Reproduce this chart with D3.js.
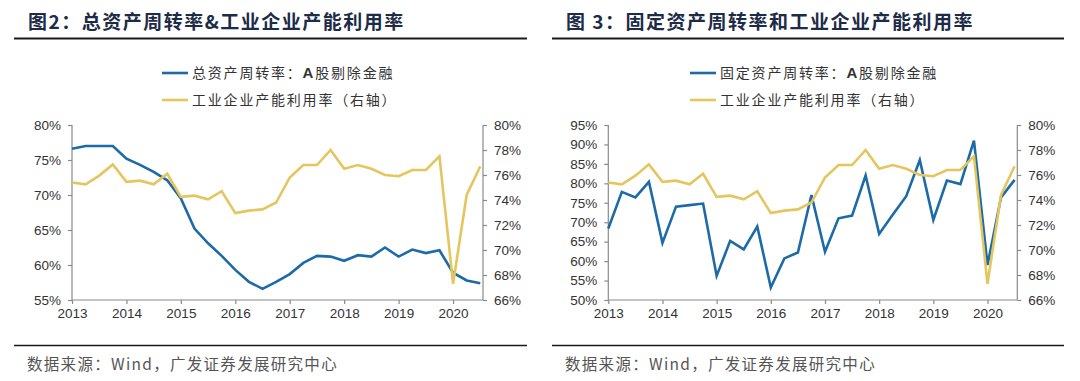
<!DOCTYPE html>
<html>
<head>
<meta charset="utf-8">
<script src="https://cdn.jsdelivr.net/npm/d3@7/dist/d3.min.js"></script>
<style>
  html, body { margin: 0; padding: 0; background: #fff; }
  svg { display: block; }
</style>
</head>
<body>
<svg id="chart" width="1080" height="381"></svg>
<script>
// ---------------- DATA ----------------
const quarters = ["2013Q1","2013Q2","2013Q3","2013Q4","2014Q1","2014Q2","2014Q3","2014Q4",
  "2015Q1","2015Q2","2015Q3","2015Q4","2016Q1","2016Q2","2016Q3","2016Q4",
  "2017Q1","2017Q2","2017Q3","2017Q4","2018Q1","2018Q2","2018Q3","2018Q4",
  "2019Q1","2019Q2","2019Q3","2019Q4","2020Q1","2020Q2","2020Q3"];
const yearTicks = ["2013","2014","2015","2016","2017","2018","2019","2020"];

// 总资产周转率：A股剔除金融 (%)
const totalAssetTurnover = [76.6, 77.0, 77.0, 77.0, 75.2, 74.3, 73.3, 72.1,
  69.5, 65.2, 63.1, 61.3, 59.3, 57.6, 56.6, 57.6,
  58.7, 60.3, 61.3, 61.2, 60.6, 61.4, 61.2, 62.5,
  61.2, 62.2, 61.7, 62.1, 58.9, 57.8, 57.4];

// 固定资产周转率：A股剔除金融 (%)
const fixedAssetTurnover = [68.4, 77.8, 76.4, 80.4, 64.7, 74.0, 74.4, 74.8,
  56.2, 65.2, 63.0, 68.9, 53.2, 60.7, 62.2, 77.0,
  62.4, 71.0, 71.7, 82.0, 67.0, 71.9, 76.7, 86.0,
  70.6, 80.7, 79.8, 91.0, 59.0, 76.4, 80.9];

// 工业企业产能利用率 (%, 右轴)
const capacityUtilization = [75.4, 75.25, 75.95, 76.85, 75.45, 75.55, 75.25, 76.1,
  74.25, 74.35, 74.05, 74.7, 72.95, 73.15, 73.25, 73.8,
  75.8, 76.8, 76.8, 78.0, 76.5, 76.8, 76.5, 76.0,
  75.9, 76.4, 76.4, 77.5, 67.3, 74.4, 76.7];

const leftTicksA = [55, 60, 65, 70, 75, 80];
const leftTicksB = [50, 55, 60, 65, 70, 75, 80, 85, 90, 95];
const rightTicks = [66, 68, 70, 72, 74, 76, 78, 80];

// ---------------- STYLE ----------------
const BLUE = "#1d6aa8";
const YELLOW = "#e5c65e";
const AXIS = "#8a8a8a";
const TXT = "#333333";
const TITLE = "#1c2b47";
const CJK = "'Noto Sans CJK SC', 'Noto Sans', sans-serif";
const NUM = "'Liberation Sans', Arial, sans-serif";

const svg = d3.select("#chart");

const panels = [
  {
    title: "图2：总资产周转率&工业企业产能利用率",
    left: 14, right: 527, titleX: 28,
    axL: 72, axR: 483,
    leftSeries: totalAssetTurnover, leftTicks: leftTicksA,
    legend1: ["总资产周转率：", "A", "股剔除金融"],
    legendX: 162
  },
  {
    title: "图 3：固定资产周转率和工业企业产能利用率",
    left: 552, right: 1064, titleX: 566,
    axL: 608.3, axR: 1017.3,
    leftSeries: fixedAssetTurnover, leftTicks: leftTicksB,
    legend1: ["固定资产周转率：", "A", "股剔除金融"],
    legendX: 690
  }
];

const plotTop = 125, plotBottom = 300;

panels.forEach(p => {
  const g = svg.append("g");

  // title
  g.append("text")
    .attr("x", p.titleX).attr("y", 29)
    .attr("font-family", CJK).attr("font-weight", "bold")
    .attr("font-size", 19).attr("letter-spacing", 1.5)
    .attr("fill", TITLE)
    .text(p.title);
  g.append("line")
    .attr("x1", p.left).attr("x2", p.right)
    .attr("y1", 38.5).attr("y2", 38.5)
    .attr("stroke", "#1a1a1a").attr("stroke-width", 2);

  // footer
  g.append("line")
    .attr("x1", p.left).attr("x2", p.right)
    .attr("y1", 345.5).attr("y2", 345.5)
    .attr("stroke", "#1a1a1a").attr("stroke-width", 1.5);
  g.append("text")
    .attr("x", p.left + 13).attr("y", 370)
    .attr("font-family", CJK).attr("font-size", 15.5)
    .attr("letter-spacing", 1.3)
    .attr("fill", "#555")
    .text("数据来源：Wind，广发证券发展研究中心");

  // scales
  const x = d3.scaleLinear().domain([0, 30.2]).range([p.axL, p.axR]);
  const yl = d3.scaleLinear()
    .domain([d3.min(p.leftTicks), d3.max(p.leftTicks)]).range([plotBottom, plotTop]);
  const yr = d3.scaleLinear()
    .domain([d3.min(rightTicks), d3.max(rightTicks)]).range([plotBottom, plotTop]);

  const fmt = d => d + "%";

  const gl = g.append("g").attr("transform", `translate(${p.axL},0)`)
    .call(d3.axisLeft(yl).tickValues(p.leftTicks).tickFormat(fmt)
      .tickSize(4).tickPadding(7));
  const gr = g.append("g").attr("transform", `translate(${p.axR},0)`)
    .call(d3.axisRight(yr).tickValues(rightTicks).tickFormat(fmt)
      .tickSize(4).tickPadding(7));
  const yearIdx = yearTicks.map(yv => quarters.indexOf(yv + "Q1"));
  const gb = g.append("g").attr("transform", `translate(0,${plotBottom})`)
    .call(d3.axisBottom(x).tickValues(yearIdx)
      .tickFormat((d, i) => yearTicks[i]).tickSize(4).tickPadding(4));

  [gl, gr, gb].forEach(a => {
    a.select(".domain").attr("stroke", AXIS).attr("stroke-width", 1.2);
    a.selectAll(".tick line").attr("stroke", AXIS).attr("stroke-width", 1.2);
    a.selectAll(".tick text").attr("fill", TXT)
      .attr("font-family", NUM).attr("font-size", 13.5);
  });
  gl.select(".domain").attr("d", `M0,${plotTop}V${plotBottom}`);
  gr.select(".domain").attr("d", `M0,${plotTop}V${plotBottom}`);
  gb.select(".domain").attr("d", `M${p.axL},0H${p.axR}`);

  const lineL = d3.line().x((d, i) => x(i)).y(d => yl(d));
  const lineR = d3.line().x((d, i) => x(i)).y(d => yr(d));

  g.append("path").datum(p.leftSeries)
    .attr("d", lineL).attr("fill", "none")
    .attr("stroke", BLUE).attr("stroke-width", 2.6)
    .attr("stroke-linejoin", "miter");
  g.append("path").datum(capacityUtilization)
    .attr("d", lineR).attr("fill", "none")
    .attr("stroke", YELLOW).attr("stroke-width", 2.6)
    .attr("stroke-linejoin", "miter");

  // legend
  const lg = g.append("g");
  const rows = [
    { color: BLUE, y: 73, parts: p.legend1 },
    { color: YELLOW, y: 100, parts: ["工业企业产能利用率（右轴）"] }
  ];
  rows.forEach(r => {
    lg.append("line")
      .attr("x1", p.legendX).attr("x2", p.legendX + 26)
      .attr("y1", r.y).attr("y2", r.y)
      .attr("stroke", r.color).attr("stroke-width", 2.6);
    const t = lg.append("text")
      .attr("x", p.legendX + 30).attr("y", r.y + 5)
      .attr("font-family", CJK).attr("font-size", 14)
      .attr("letter-spacing", 1.8).attr("fill", TXT);
    r.parts.forEach(part => {
      const ts = t.append("tspan").text(part);
      if (part === "A") ts.attr("font-weight", "bold").attr("font-family", NUM).attr("font-size", 15);
    });
  });
});
</script>
</body>
</html>
